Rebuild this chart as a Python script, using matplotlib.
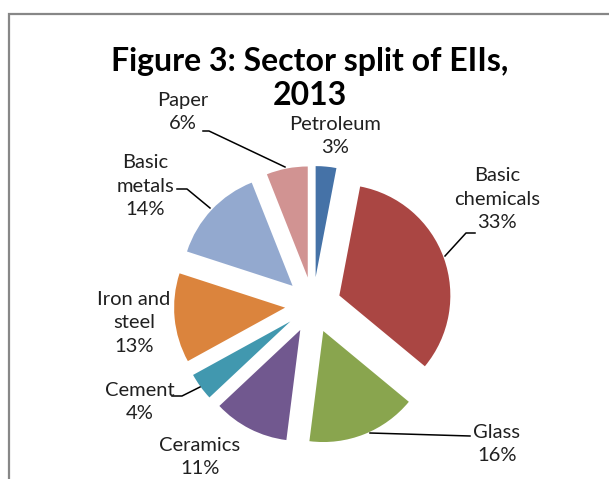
import matplotlib.pyplot as plt
from matplotlib.patches import Rectangle

# Sector shares, clockwise from 12 o'clock
sectors = ["Petroleum", "Basic\nchemicals", "Glass", "Ceramics", "Cement",
           "Iron and\nsteel", "Basic\nmetals", "Paper"]
shares = [3, 33, 16, 11, 4, 13, 14, 6]
colours = ["#4572A7", "#AA4643", "#89A54E", "#71588F", "#4198AF",
           "#DB843D", "#93A9CF", "#D19392"]

W, H = 609, 479
plt.rcParams["font.family"] = ["Lato", "DejaVu Sans"]

fig = plt.figure(figsize=(W / 100, H / 100), dpi=100)
ax = fig.add_axes([0, 0, 1, 1])

# pixel-style coordinates: y measured from the top
def py(y):
    return H - y

ax.pie(shares, colors=colours, startangle=90, counterclock=False,
       center=(313, py(305)), radius=111, explode=[28] * len(shares),
       wedgeprops=dict(linewidth=0), frame=True)

ax.set_xlim(0, W)
ax.set_ylim(0, H)
ax.set_aspect("equal")
ax.axis("off")

# outer chart border (runs off the right and bottom edges)
ax.add_patch(Rectangle((9, py(700)), 700, 700 - 14, fill=False,
                       edgecolor="#878787", linewidth=1.6, clip_on=False))

ax.text(310, py(61), "Figure 3: Sector split of EIIs,", ha="center", va="center",
        fontsize=23, fontweight="bold", color="black")
ax.text(310, py(95), "2013", ha="center", va="center",
        fontsize=23, fontweight="bold", color="black")

# data label centres
label_xy = [(335, 136), (497, 199), (497, 444), (200, 457), (140, 402),
            (134, 323), (145, 186), (183, 112)]
for name, pct, (lx, ly) in zip(sectors, shares, label_xy):
    ax.text(lx, py(ly), f"{name}\n{pct}%", ha="center", va="center",
            fontsize=14.5, color="#202020", linespacing=1.45)

# leader lines
leaders = [
    [(203, 131), (209, 131), (285, 167)],   # Paper
    [(177, 189), (187, 189), (210, 208)],   # Basic metals
    [(475, 233), (466, 233), (445, 256)],   # Basic chemicals
    [(470, 436), (370, 433)],               # Glass
    [(172, 396), (182, 396), (200, 387)],   # Cement
]
for pts in leaders:
    xs = [p[0] for p in pts]
    ys = [py(p[1]) for p in pts]
    ax.plot(xs, ys, color="black", linewidth=1.1)

fig.savefig("out.png", dpi=100, facecolor="white")
